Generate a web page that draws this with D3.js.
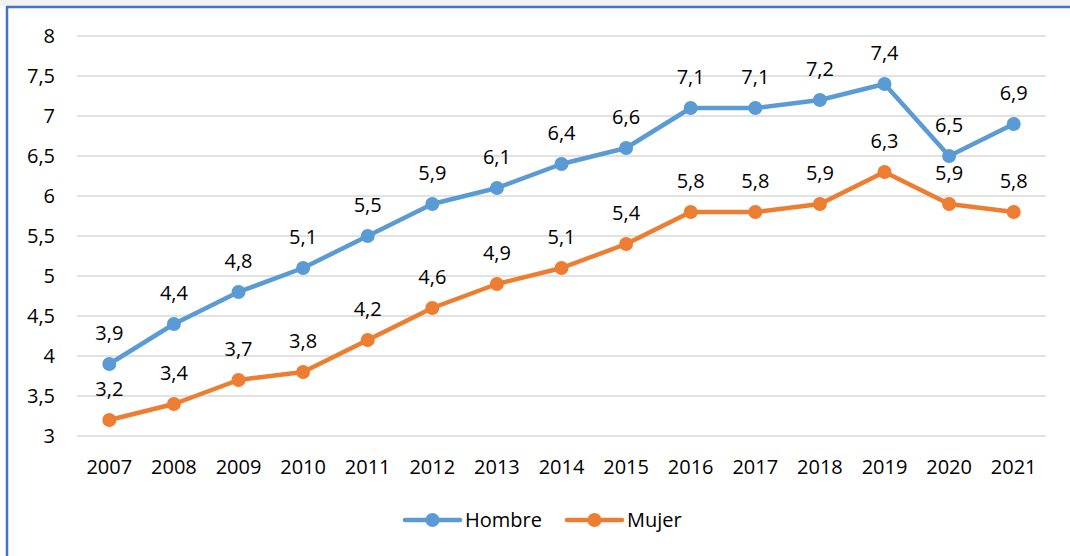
<!DOCTYPE html>
<html>
<head>
<meta charset="utf-8">
<script src="https://cdn.jsdelivr.net/npm/d3@7"></script>
<style>
  body { margin: 0; background: #fff; }
  svg { display: block; font-family: "Open Sans", sans-serif; }
</style>
</head>
<body>
<div class="chart"></div>
<script>
  // datos
  var years = ["2007","2008","2009","2010","2011","2012","2013","2014","2015","2016","2017","2018","2019","2020","2021"];
  var hombre = [3.9,4.4,4.8,5.1,5.5,5.9,6.1,6.4,6.6,7.1,7.1,7.2,7.4,6.5,6.9];
  var mujer = [3.2,3.4,3.7,3.8,4.2,4.6,4.9,5.1,5.4,5.8,5.8,5.9,6.3,5.9,5.8];
  var yTicks = [3,3.5,4,4.5,5,5.5,6,6.5,7,7.5,8];
  var seriesNames = ["Hombre","Mujer"];
  var colors = ["#5B9BD5","#ED7D31"];

  var w = 1070, h = 556;
  var plotLeft = 77, plotRight = 1046, plotTop = 36, plotBottom = 436;

  var fmt = function(v){ return String(v).replace(".", ","); };

  var svg = d3.select(".chart").append("svg")
    .attr("width", w).attr("height", h);

  // marco
  svg.append("rect").attr("x", 0).attr("y", 0).attr("width", w).attr("height", 6).attr("fill", "#f2f2f2");
  svg.append("line").attr("x1", 6).attr("x2", w).attr("y1", 7).attr("y2", 7)
    .attr("stroke", "#4472C4").attr("stroke-width", 2.5);
  svg.append("line").attr("x1", 7).attr("x2", 7).attr("y1", 6).attr("y2", h)
    .attr("stroke", "#4472C4").attr("stroke-width", 2.5);

  var x = d3.scaleBand().domain(years).range([plotLeft, plotRight]);
  var y = d3.scaleLinear().domain([3, 8]).range([plotBottom, plotTop]);

  // rejilla
  svg.append("g").selectAll("line")
    .data(yTicks).enter().append("line")
    .attr("x1", plotLeft).attr("x2", plotRight)
    .attr("y1", function(d){ return y(d); })
    .attr("y2", function(d){ return y(d); })
    .attr("stroke", "#d9d9d9").attr("stroke-width", 1.5);

  // eje y
  svg.append("g").selectAll("text")
    .data(yTicks).enter().append("text")
    .attr("x", 55).attr("y", function(d){ return y(d); })
    .attr("dy", "0.35em").attr("text-anchor", "end")
    .attr("font-size", 20).attr("fill", "#000")
    .text(fmt);

  // eje x
  svg.append("g").selectAll("text")
    .data(years).enter().append("text")
    .attr("x", function(d){ return x(d) + x.bandwidth()/2; })
    .attr("y", 467).attr("dy", "0.35em").attr("text-anchor", "middle")
    .attr("font-size", 20).attr("fill", "#000")
    .text(function(d){ return d; });

  var line = d3.line()
    .x(function(d, i){ return x(years[i]) + x.bandwidth()/2; })
    .y(function(d){ return y(d); });

  [hombre, mujer].forEach(function(vals, k){
    var g = svg.append("g");
    g.append("path").datum(vals)
      .attr("d", line).attr("fill", "none")
      .attr("stroke", colors[k]).attr("stroke-width", 4.5)
      .attr("stroke-linejoin", "round").attr("stroke-linecap", "round");
    g.selectAll("circle").data(vals).enter().append("circle")
      .attr("cx", function(d, i){ return x(years[i]) + x.bandwidth()/2; })
      .attr("cy", function(d){ return y(d); })
      .attr("r", 7).attr("fill", colors[k]);
    g.selectAll("text").data(vals).enter().append("text")
      .attr("x", function(d, i){ return x(years[i]) + x.bandwidth()/2; })
      .attr("y", function(d){ return y(d) - 24; })
      .attr("text-anchor", "middle")
      .attr("font-size", 20).attr("fill", "#000")
      .text(fmt);
  });

  // leyenda
  var legX = [405, 567];
  seriesNames.forEach(function(name, k){
    var lg = svg.append("g").attr("transform", "translate(" + legX[k] + ",520)");
    lg.append("line").attr("x1", 0).attr("x2", 55).attr("y1", 0).attr("y2", 0)
      .attr("stroke", colors[k]).attr("stroke-width", 4.5).attr("stroke-linecap", "round");
    lg.append("circle").attr("cx", 27.5).attr("cy", 0).attr("r", 7).attr("fill", colors[k]);
    lg.append("text").attr("x", 60).attr("y", 0).attr("dy", "0.35em")
      .attr("font-size", 20).attr("fill", "#000").text(name);
  });
</script>
</body>
</html>
